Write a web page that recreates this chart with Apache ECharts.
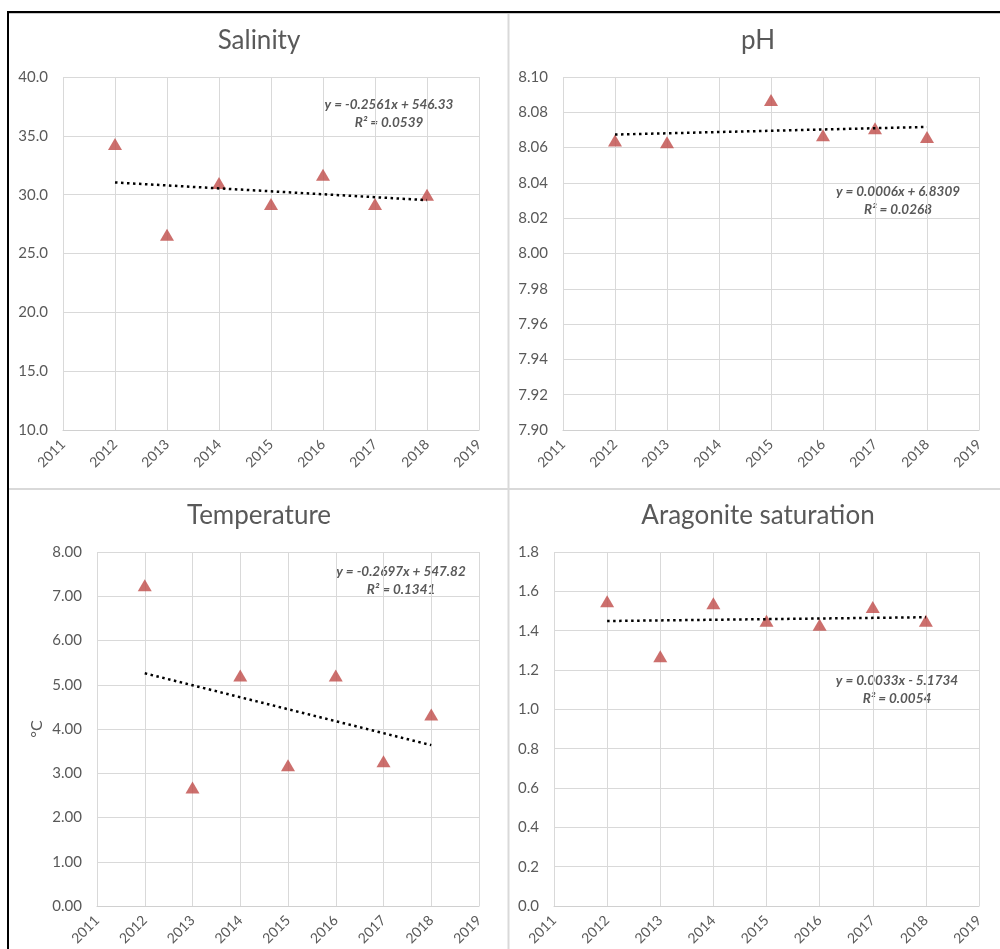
<!DOCTYPE html>
<html>
<head>
<meta charset="utf-8">
<title>Water quality trends 2012–2018</title>
<script src="https://cdn.jsdelivr.net/npm/echarts@6/dist/echarts.min.js"></script>
<style>
  html, body { margin: 0; padding: 0; background: #fff; }
  #chart { width: 1000px; height: 949px; }
</style>
</head>
<body>
<div id="chart"></div>
<script>
// ---- Data -------------------------------------------------------------
const years = [2012, 2013, 2014, 2015, 2016, 2017, 2018];
const salinity = [34.3, 26.6, 31.0, 29.2, 31.7, 29.2, 30.0];
const pHYears = [2012, 2013, 2015, 2016, 2017, 2018];
const pH = [8.064, 8.063, 8.087, 8.067, 8.071, 8.066];
const temperature = [7.25, 2.68, 5.21, 3.18, 5.21, 3.27, 4.33];
const aragonite = [1.55, 1.27, 1.54, 1.45, 1.43, 1.52, 1.45];

// Trendline equations as printed on each panel
const eqLines = ['y = -0.2561x + 546.33', 'y = 0.0006x + 6.8309', 'y = -0.2697x + 547.82', 'y = 0.0033x - 5.1734'];
const r2Lines = ['R² = 0.0539', 'R² = 0.0268', 'R² = 0.1341', 'R² = 0.0054'];
const titles = ['Salinity', 'pH', 'Temperature', 'Aragonite saturation'];
const xTicks = [2011, 2019];

// ---- Styling ----------------------------------------------------------
const FONT = 'Lato, "Open Sans", sans-serif';
const TEXT = '#595959';
const GRID_LINE = '#D9D9D9';
const MARKER = '#BF4B48';

// Least-squares line over the plotted years (how spreadsheet trendlines are drawn)
function trend(xs, ys) {
  const n = xs.length;
  const mx = xs.reduce((a, b) => a + b, 0) / n;
  const my = ys.reduce((a, b) => a + b, 0) / n;
  let sxy = 0, sxx = 0;
  for (let i = 0; i < n; i++) {
    sxy += (xs[i] - mx) * (ys[i] - my);
    sxx += (xs[i] - mx) * (xs[i] - mx);
  }
  const b = sxy / sxx;
  const a = my - b * mx;
  const x0 = xs[0], x1 = xs[n - 1];
  return [[x0, a + b * x0], [x1, a + b * x1]];
}

const panels = [
  { xs: years,   ys: salinity,    grid: { left: 63, top: 77,  width: 416, height: 353 }, yMin: 10,  yMax: 40,   yStep: 5,    dec: 1, title: [259, 41],  eq: [389, 114] },
  { xs: pHYears, ys: pH,          grid: { left: 563, top: 77, width: 416, height: 353 }, yMin: 7.9, yMax: 8.1,  yStep: 0.02, dec: 2, title: [758, 41],  eq: [898, 201] },
  { xs: years,   ys: temperature, grid: { left: 97, top: 552, width: 382, height: 354 }, yMin: 0,   yMax: 8,    yStep: 1,    dec: 2, title: [259, 516], eq: [401, 581], yName: '°C' },
  { xs: years,   ys: aragonite,   grid: { left: 554, top: 552, width: 425, height: 354 }, yMin: 0,  yMax: 1.8,  yStep: 0.2,  dec: 1, title: [758, 516], eq: [897, 690] }
];

const grid = [], xAxis = [], yAxis = [], series = [], graphic = [];

panels.forEach((p, i) => {
  grid.push(Object.assign({ containLabel: false }, p.grid));
  xAxis.push({
    type: 'value', gridIndex: i, min: xTicks[0], max: xTicks[1], interval: 1,
    axisLine: { show: true, lineStyle: { color: '#D0D0D0', width: 1 } },
    axisTick: { show: false },
    splitLine: { show: true, lineStyle: { color: GRID_LINE, width: 1 } },
    axisLabel: { rotate: 45, margin: 12, color: TEXT, fontFamily: FONT, fontSize: 14, formatter: v => String(v) }
  });
  const y = {
    type: 'value', gridIndex: i, min: p.yMin, max: p.yMax, interval: p.yStep,
    axisLine: { show: false },
    axisTick: { show: false },
    splitLine: { show: true, lineStyle: { color: GRID_LINE, width: 1 } },
    axisLabel: { margin: 15, color: TEXT, fontFamily: FONT, fontSize: 15, formatter: v => Number(v).toFixed(p.dec) }
  };
  if (p.yName) {
    Object.assign(y, {
      name: p.yName, nameLocation: 'middle', nameGap: 52, nameRotate: 90,
      nameTextStyle: { color: TEXT, fontFamily: FONT, fontSize: 16 }
    });
  }
  yAxis.push(y);

  series.push({
    type: 'scatter', xAxisIndex: i, yAxisIndex: i,
    symbol: 'triangle', symbolSize: [14, 12],
    itemStyle: { color: MARKER },
    data: p.xs.map((x, k) => [x, p.ys[k]]),
    z: 2
  });
  series.push({
    type: 'line', xAxisIndex: i, yAxisIndex: i,
    showSymbol: false, symbol: 'none',
    lineStyle: { color: '#000', width: 2.5, type: [2.5, 3.5] },
    data: trend(p.xs, p.ys),
    z: 3, silent: true
  });

  graphic.push({
    type: 'text', x: p.title[0], y: p.title[1],
    style: { text: titles[i], fill: TEXT, font: '26px ' + FONT, align: 'center', verticalAlign: 'middle' }
  });
  graphic.push({
    type: 'text', x: p.eq[0], y: p.eq[1],
    style: {
      text: eqLines[i] + '\n' + r2Lines[i], fill: TEXT,
      font: 'italic bold 13.5px ' + FONT, align: 'center', verticalAlign: 'middle', lineHeight: 18
    }
  });
});

// Page frame: black border on top and left, light panel dividers
graphic.push(
  { type: 'rect', shape: { x: 7, y: 11, width: 993, height: 2 }, style: { fill: '#000' } },
  { type: 'rect', shape: { x: 7, y: 13, width: 993, height: 1 }, style: { fill: '#C8C8C8' } },
  { type: 'rect', shape: { x: 7, y: 11, width: 2, height: 938 }, style: { fill: '#000' } },
  { type: 'rect', shape: { x: 507.5, y: 14, width: 2, height: 935 }, style: { fill: GRID_LINE } },
  { type: 'rect', shape: { x: 9, y: 488, width: 991, height: 2 }, style: { fill: GRID_LINE } }
);

const chart = echarts.init(document.getElementById('chart'), null, { renderer: 'canvas' });
chart.setOption({
  animation: false,
  backgroundColor: '#fff',
  grid, xAxis, yAxis, series, graphic
});
</script>
</body>
</html>
